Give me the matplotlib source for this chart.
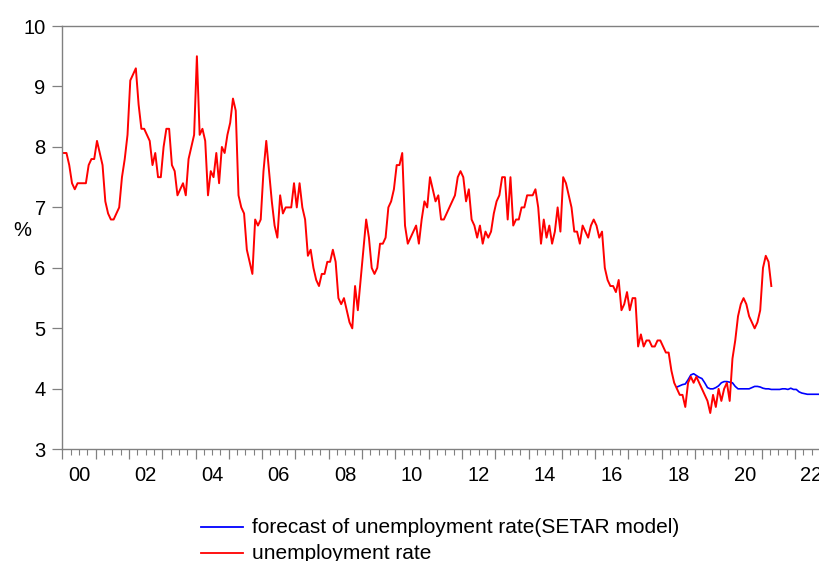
import matplotlib
matplotlib.use("Agg")
import matplotlib.pyplot as plt
from matplotlib.lines import Line2D
import numpy as np
import pandas as pd

plt.rcParams["font.family"] = ["Liberation Sans", "DejaVu Sans"]

# Monthly unemployment rate (%), 2000M01 - 2021M04
unemployment = [
    7.9, 7.9, 7.7, 7.4, 7.3, 7.4, 7.4, 7.4, 7.4, 7.7, 7.8, 7.8,   # 2000
    8.1, 7.9, 7.7, 7.1, 6.9, 6.8, 6.8, 6.9, 7.0, 7.5, 7.8, 8.2,   # 2001
    9.1, 9.2, 9.3, 8.7, 8.3, 8.3, 8.2, 8.1, 7.7, 7.9, 7.5, 7.5,   # 2002
    8.0, 8.3, 8.3, 7.7, 7.6, 7.2, 7.3, 7.4, 7.2, 7.8, 8.0, 8.2,   # 2003
    9.5, 8.2, 8.3, 8.1, 7.2, 7.6, 7.5, 7.9, 7.4, 8.0, 7.9, 8.2,   # 2004
    8.4, 8.8, 8.6, 7.2, 7.0, 6.9, 6.3, 6.1, 5.9, 6.8, 6.7, 6.8,   # 2005
    7.6, 8.1, 7.6, 7.1, 6.7, 6.5, 7.2, 6.9, 7.0, 7.0, 7.0, 7.4,   # 2006
    7.0, 7.4, 7.0, 6.8, 6.2, 6.3, 6.0, 5.8, 5.7, 5.9, 5.9, 6.1,   # 2007
    6.1, 6.3, 6.1, 5.5, 5.4, 5.5, 5.3, 5.1, 5.0, 5.7, 5.3, 5.8,   # 2008
    6.3, 6.8, 6.5, 6.0, 5.9, 6.0, 6.4, 6.4, 6.5, 7.0, 7.1, 7.3,   # 2009
    7.7, 7.7, 7.9, 6.7, 6.4, 6.5, 6.6, 6.7, 6.4, 6.8, 7.1, 7.0,   # 2010
    7.5, 7.3, 7.1, 7.2, 6.8, 6.8, 6.9, 7.0, 7.1, 7.2, 7.5, 7.6,   # 2011
    7.5, 7.1, 7.3, 6.8, 6.7, 6.5, 6.7, 6.4, 6.6, 6.5, 6.6, 6.9,   # 2012
    7.1, 7.2, 7.5, 7.5, 6.8, 7.5, 6.7, 6.8, 6.8, 7.0, 7.0, 7.2,   # 2013
    7.2, 7.2, 7.3, 7.0, 6.4, 6.8, 6.5, 6.7, 6.4, 6.6, 7.0, 6.6,   # 2014
    7.5, 7.4, 7.2, 7.0, 6.6, 6.6, 6.4, 6.7, 6.6, 6.5, 6.7, 6.8,   # 2015
    6.7, 6.5, 6.6, 6.0, 5.8, 5.7, 5.7, 5.6, 5.8, 5.3, 5.4, 5.6,   # 2016
    5.3, 5.5, 5.5, 4.7, 4.9, 4.7, 4.8, 4.8, 4.7, 4.7, 4.8, 4.8,   # 2017
    4.7, 4.6, 4.6, 4.3, 4.1, 4.0, 3.9, 3.9, 3.7, 4.1, 4.2, 4.1,   # 2018
    4.2, 4.1, 4.0, 3.9, 3.8, 3.6, 3.9, 3.7, 4.0, 3.8, 4.0, 4.1,   # 2019
    3.8, 4.5, 4.8, 5.2, 5.4, 5.5, 5.4, 5.2, 5.1, 5.0, 5.1, 5.3,   # 2020
    6.0, 6.2, 6.1, 5.7,                                           # 2021
]

# SETAR model forecast (%), 2018M06 - 2022M12
setar_forecast = [
    4.03, 4.05, 4.07, 4.08, 4.15, 4.23, 4.25,
    4.22, 4.19, 4.17, 4.10, 4.02, 4.00, 4.00, 4.02, 4.05, 4.10, 4.12, 4.12,
    4.11, 4.10, 4.04, 4.00, 4.00, 4.00, 4.00, 4.00, 4.02, 4.04, 4.04, 4.03,
    4.01, 4.00, 4.00, 3.99, 3.99, 3.99, 3.99, 4.00, 4.00, 3.99, 4.01, 3.99,
    3.99, 3.95, 3.93, 3.92, 3.91, 3.91, 3.91, 3.91, 3.91, 3.91, 3.91, 3.91,
]

year_labels = ["00", "02", "04", "06", "08", "10", "12", "14", "16", "18", "20", "22"]
legend_labels = ["forecast of unemployment rate(SETAR model)", "unemployment rate"]


def decimal_years(start, n):
    idx = pd.period_range(start, periods=n, freq="M")
    return idx.year + (idx.month - 0.5) / 12.0


x_actual = decimal_years("2000-01", len(unemployment))
x_fc = decimal_years("2018-06", len(setar_forecast))

W, H = 819, 561
fig = plt.figure(figsize=(W / 100, H / 100), dpi=100)
ax = fig.add_axes([62.3 / W, 111.7 / H, 765.9 / W, 423.3 / H])

ax.plot(x_fc, setar_forecast, color="#0000ff", lw=1.2, solid_joinstyle="round")
ax.plot(x_actual, unemployment, color="#ff0000", lw=1.4, solid_joinstyle="round")

ax.set_xlim(2000, 2023)
ax.set_ylim(3, 10)

spine_col = "#808080"
for side in ["left", "bottom", "top", "right"]:
    ax.spines[side].set_color(spine_col)
    ax.spines[side].set_linewidth(1.0)

# y axis
ax.set_yticks(range(3, 11))
ax.tick_params(axis="y", length=7, width=0.9, color=spine_col, pad=5,
               labelsize=14.5, labelcolor="black")
ax.set_ylabel("%", rotation=0, fontsize=14.5, va="center", ha="center")
ax.yaxis.set_label_coords(-0.052, 0.516)

# x axis: yearly major ticks, quarterly minor ticks, labels mid-year
ax.set_xticks(np.arange(2000, 2024), labels=[])
ax.set_xticks(np.arange(2000, 2023.01, 0.25), minor=True)
ax.tick_params(axis="x", which="major", length=7, width=0.9, color=spine_col)
ax.tick_params(axis="x", which="minor", length=4, width=0.8, color=spine_col)

sec = ax.secondary_xaxis("bottom")
sec.set_xticks([2000.5 + 2 * k for k in range(len(year_labels))], labels=year_labels)
sec.tick_params(length=0, pad=12, labelsize=14.5)
sec.spines["bottom"].set_visible(False)

# legend below the plot
fig_tr = fig.transFigure
for k, (lab, col) in enumerate(zip(legend_labels, ["#0000ff", "#ff0000"])):
    y = (H - (527.3 + 26 * k)) / H
    fig.add_artist(Line2D([201 / W, 243 / W], [y, y], color=col, lw=1.3,
                          transform=fig_tr))
    fig.text(252 / W, y, lab, fontsize=15, va="center", ha="left",
             transform=fig_tr)

fig.savefig("out.png", dpi=100)
